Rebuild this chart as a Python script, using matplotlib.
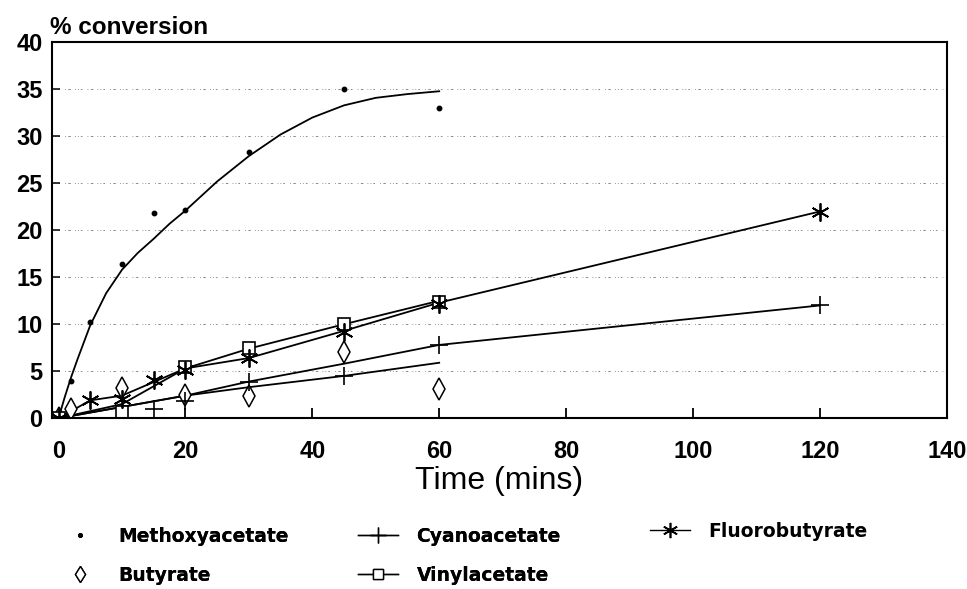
import numpy as np
import matplotlib
matplotlib.use("Agg")
import matplotlib.pyplot as plt
from matplotlib.lines import Line2D

# measured points (time in mins, % conversion)
methoxy_t = [0, 2, 5, 10, 15, 20, 30, 45, 60]
methoxy_y = [0, 4.0, 10.2, 16.4, 21.8, 22.2, 28.3, 35.0, 33.0]

butyrate_t = [0, 2, 10, 20, 30, 45, 60]
butyrate_y = [0, 1.0, 3.2, 2.5, 2.4, 7.0, 3.1]

cyano_t = [0, 15, 20, 30, 45, 60, 120]
cyano_y = [0, 1.0, 1.8, 3.8, 4.5, 7.8, 12.0]

vinyl_t = [0, 10, 20, 30, 45, 60]
vinyl_y = [0, 0.7, 5.4, 7.5, 10.0, 12.4]

fluoro_t = [0, 5, 10, 15, 20, 30, 45, 60, 120]
fluoro_y = [0, 1.9, 2.0, 4.1, 5.1, 6.4, 9.2, 12.2, 22.0]

# fitted trend lines
methoxy_fit_t = [0, 1, 2, 3, 5, 7.5, 10, 12.5, 15, 17.5, 20, 25, 30, 35, 40, 45, 50, 55, 60]
methoxy_fit_y = [0, 2.3, 4.4, 6.3, 9.9, 13.3, 15.8, 17.6, 19.1, 20.7, 22.1, 25.2, 27.9, 30.2, 32.0, 33.3, 34.1, 34.5, 34.8]

butyrate_fit_t = [0, 20, 30, 45, 60]
butyrate_fit_y = [0, 2.4, 3.3, 4.5, 5.9]

cyano_fit_t = [0, 20, 30, 45, 60, 120]
cyano_fit_y = [0, 2.4, 3.9, 5.8, 7.8, 12.0]

vinyl_fit_t = [0, 10, 20, 30, 45, 60]
vinyl_fit_y = [0, 1.5, 5.3, 7.4, 10.0, 12.5]

fluoro_fit_t = [0, 5, 10, 20, 30, 45, 60, 120]
fluoro_fit_y = [0, 1.9, 2.4, 5.3, 6.4, 9.3, 12.3, 22.0]

xticks = [0, 20, 40, 60, 80, 100, 120, 140]
yticks = [0, 5, 10, 15, 20, 25, 30, 35, 40]

plt.rcParams['font.family'] = ['Liberation Sans', 'DejaVu Sans']

fig = plt.figure(figsize=(9.67, 5.89), dpi=100)
ax = fig.add_axes([0.054, 0.290, 0.925, 0.638])

lw = 1.3
star = (6, 2, 0)

# trend lines
ax.plot(methoxy_fit_t, methoxy_fit_y, color='black', lw=lw)
ax.plot(butyrate_fit_t, butyrate_fit_y, color='black', lw=lw)
ax.plot(cyano_fit_t, cyano_fit_y, color='black', lw=lw)
ax.plot(vinyl_fit_t, vinyl_fit_y, color='black', lw=lw)
ax.plot(fluoro_fit_t, fluoro_fit_y, color='black', lw=lw)

# data points
ax.plot(methoxy_t, methoxy_y, ls='none', marker='o', ms=3.2, color='black')
ax.plot(butyrate_t, butyrate_y, ls='none', marker='d', ms=11, mfc='white',
        mec='black', mew=1.1)
ax.plot(cyano_t, cyano_y, ls='none', marker='+', ms=13, color='black', mew=1.2)
ax.plot(vinyl_t, vinyl_y, ls='none', marker='s', ms=8.5, mfc='white',
        mec='black', mew=1.2)
ax.plot(fluoro_t, fluoro_y, ls='none', marker=star, ms=13, color='black', mew=1.3)

ax.set_xlim(-1, 140)
ax.set_ylim(0, 40)
ax.set_xticks(xticks)
ax.set_yticks(yticks)

# broken dotted grid
ax.yaxis.grid(True, color='#777777', lw=0.6,
              linestyle=(0, (1, 2.5, 1, 2.5, 2, 6, 1, 3, 3, 5)))
ax.set_axisbelow(True)

for s in ax.spines.values():
    s.set_linewidth(1.5)
    s.set_color('black')

ax.tick_params(axis='x', direction='in', length=7, width=1.3, pad=16,
               labelsize=17)
ax.tick_params(axis='y', direction='in', length=6, width=1.1, pad=7,
               labelsize=17)
for lab in ax.get_xticklabels() + ax.get_yticklabels():
    lab.set_fontweight('bold')

ax.set_xlabel('Time (mins)', fontsize=23, labelpad=2)
fig.text(0.052, 0.953, '% conversion', fontsize=17.5, fontweight='bold',
         ha='left', va='center')

handles = [
    Line2D([], [], ls='none', marker='o', ms=2.5, color='black'),
    Line2D([], [], ls='none', marker='d', ms=8, mfc='white', mec='black', mew=1),
    Line2D([], [], color='black', lw=1, marker='+', ms=11, mew=1),
    Line2D([], [], color='black', lw=1, marker='s', ms=6.5, mfc='white', mec='black', mew=1),
    Line2D([], [], color='black', lw=1, marker=star, ms=11, mew=1.2),
]
labels = ['Methoxyacetate', 'Butyrate', 'Cyanoacetate', 'Vinylacetate', 'Fluorobutyrate']
leg_kw = dict(loc='upper left', frameon=False, handlelength=2.1,
              handletextpad=1.0, labelspacing=1.05,
              prop={'family': 'DejaVu Sans', 'weight': 'bold', 'size': 13.5})

leg1 = fig.legend(handles[:4], labels[:4], bbox_to_anchor=(0.045, 0.134),
                  ncol=2, columnspacing=3.7, **leg_kw)
fig.add_artist(leg1)
fig.legend(handles[4:], labels[4:], bbox_to_anchor=(0.655, 0.143), **leg_kw)

fig.savefig('out.png', dpi=100)
